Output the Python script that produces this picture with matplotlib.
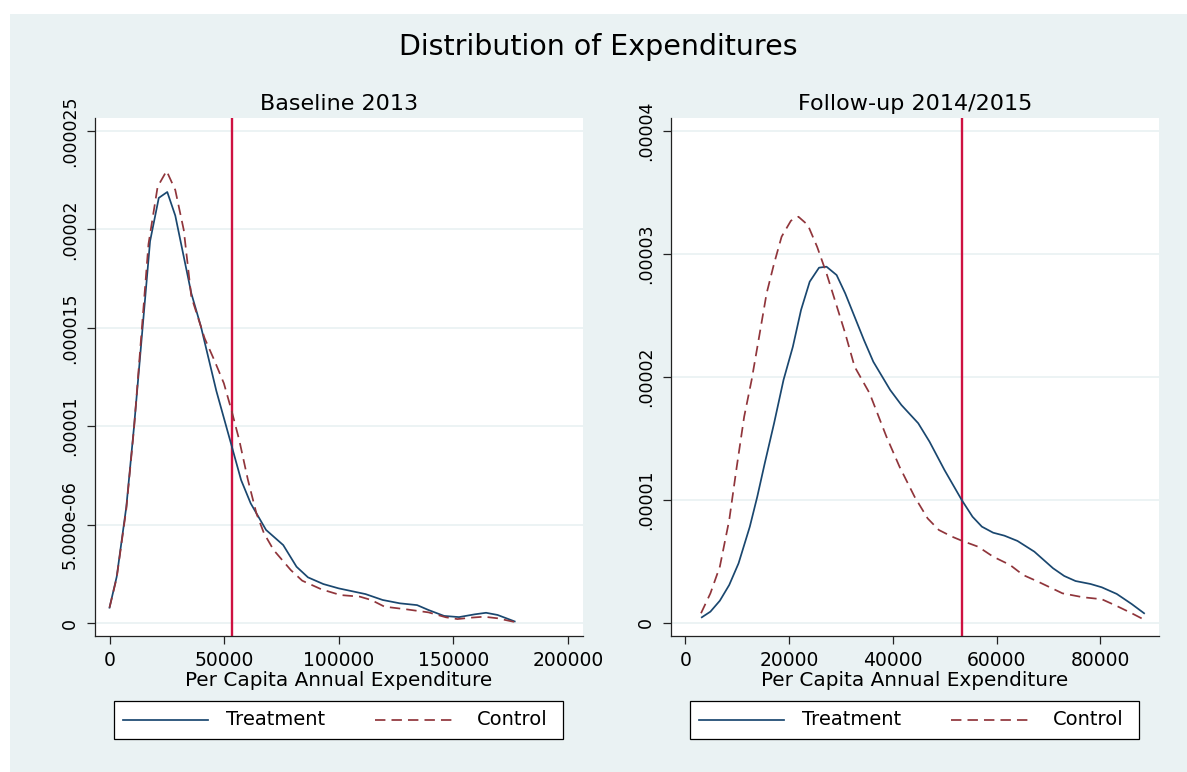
import matplotlib
matplotlib.use("Agg")
import matplotlib.pyplot as plt
from matplotlib.patches import Rectangle
from matplotlib.lines import Line2D

# ---------------- data (densities in units of 1e-6) ----------------
base_treat_x = [0, 3140, 7330, 10700, 17700, 21500, 25200, 28700, 35700, 39900,
                46600, 53200, 57400, 61600, 68300, 75800, 81600, 86600, 93300, 100000,
                111700, 119200, 126700, 134200, 139200, 146000, 152500, 159300, 164300, 169300,
                176800]
base_treat_y = [0.78, 2.35, 5.9, 9.97, 19.4, 21.6, 21.9, 20.7, 16.75, 15.06,
                11.8, 9.04, 7.27, 6.08, 4.73, 3.96, 2.86, 2.32, 1.98, 1.76,
                1.47, 1.17, 1.0, 0.91, 0.66, 0.36, 0.30, 0.44, 0.52, 0.41,
                0.08]
base_ctrl_x = [0, 3140, 7330, 10700, 17000, 21000, 24900, 28700, 32400, 35700,
               41500, 45700, 49900, 53200, 56600, 60400, 64100, 67400, 71600, 79100,
               84100, 92500, 100800, 109200, 114200, 120000, 129200, 139200, 146800, 151800,
               157600, 163400, 169300, 176800]
base_ctrl_y = [0.78, 2.3, 5.8, 9.9, 19.25, 22.17, 22.97, 22.0, 19.97, 16.58,
               14.47, 13.36, 12.18, 10.82, 9.3, 7.27, 5.57, 4.56, 3.71, 2.69,
               2.15, 1.71, 1.42, 1.34, 1.17, 0.83, 0.70, 0.54, 0.29, 0.20,
               0.27, 0.32, 0.24, 0.05]

fup_treat_x = [3160, 4820, 6640, 8450, 10250, 12420, 13860, 15300, 17100, 18920,
               20720, 22300, 23970, 25770, 27210, 29160, 30820, 32630, 34440, 36240,
               39500, 41660, 44900, 47080, 49960, 53290, 55370, 57180, 59350, 61510,
               64040, 67290, 70900, 73060, 75240, 78130, 80300, 83190, 86070, 88460]
fup_treat_y = [0.46, 0.92, 1.81, 3.09, 4.85, 7.83, 10.27, 12.98, 16.24, 19.76,
               22.46, 25.45, 27.75, 28.89, 28.97, 28.29, 26.8, 24.9, 23.0, 21.24,
               18.94, 17.72, 16.24, 14.74, 12.44, 10.0, 8.64, 7.83, 7.34, 7.1,
               6.67, 5.8, 4.45, 3.82, 3.41, 3.17, 2.9, 2.36, 1.54, 0.79]
fup_ctrl_x = [3010, 4820, 6640, 8450, 9900, 11330, 12770, 14220, 15660, 17110,
              18550, 20350, 21800, 23610, 25400, 27210, 29020, 30820, 32630,
              35530, 38770, 41300, 44190, 46720, 48880, 51410, 53290, 56460, 59350,
              62600, 65130, 68010, 72720, 76690, 80300, 83190, 86070, 88600]
fup_ctrl_y = [0.79, 2.41, 4.58, 8.37, 12.7, 16.77, 19.76, 23.28, 26.8, 29.24,
              31.41, 32.71, 33.03, 32.36, 30.59, 28.43, 25.99, 23.55, 20.84,
              18.67, 15.15, 12.7, 10.27, 8.5, 7.56, 7.02, 6.69, 6.2, 5.39,
              4.72, 3.9, 3.36, 2.41, 2.09, 1.93, 1.38, 0.79, 0.24]

poverty_line = 53400

base_xticks = [0, 50000, 100000, 150000, 200000]
base_yticks = [0, 5e-6, 1e-5, 1.5e-5, 2e-5, 2.5e-5]
base_yticklabels = ["0", "5.000e-06", ".00001", ".000015", ".00002", ".000025"]
fup_xticks = [0, 20000, 40000, 60000, 80000]
fup_yticks = [0, 1e-5, 2e-5, 3e-5, 4e-5]
fup_yticklabels = ["0", ".00001", ".00002", ".00003", ".00004"]

suptitle = "Distribution of Expenditures"
panel_titles = ["Baseline 2013", "Follow-up 2014/2015"]
xlabel = "Per Capita Annual Expenditure"
series_labels = ["Treatment", "Control"]

# ---------------- style ----------------
W, H = 1187, 772
BG = "#EAF2F3"
NAVY = "#1A476F"
MAROON = "#90353B"
RED = "#CE1141"
DASH = (6, 3.5)
LW = 1.25

fig = plt.figure(figsize=(W / 100, H / 100), dpi=100)
fig.patch.set_facecolor("white")
fig.add_artist(Rectangle((10 / W, 0), (W - 10) / W, (H - 14) / H,
                         transform=fig.transFigure, facecolor=BG,
                         edgecolor="none", zorder=0))

fig.text(598 / W, 1 - 47 / H, suptitle, ha="center", va="center", fontsize=20.5)


def make_panel(left_px, width_px, title, tx, ty, cx, cy, xticks, yticks, ylabels,
               xlim, ylim):
    ax = fig.add_axes([left_px / W, (H - 636) / H, width_px / W, 518 / H])
    ax.set_facecolor("white")
    ax.plot(tx, [v * 1e-6 for v in ty], color=NAVY, lw=LW, zorder=3)
    ax.plot(cx, [v * 1e-6 for v in cy], color=MAROON, lw=LW, dashes=DASH, zorder=3)
    ax.axvline(poverty_line, color=RED, lw=1.7, zorder=2.5)
    ax.set_xlim(*xlim)
    ax.set_ylim(*ylim)
    ax.set_xticks(xticks)
    ax.set_xticklabels([str(t) for t in xticks], fontsize=13.5)
    ax.set_yticks(yticks)
    ax.set_yticklabels(ylabels, fontsize=12.5, rotation=90, va="center")
    ax.tick_params(axis="both", direction="out", length=5.5, width=0.9, color="#222222")
    ax.tick_params(axis="y", pad=6)
    ax.tick_params(axis="x", pad=5)
    ax.yaxis.grid(True, color=BG, lw=1.3)
    ax.xaxis.grid(False)
    ax.set_axisbelow(True)
    for s in ["top", "right"]:
        ax.spines[s].set_visible(False)
    for s in ["left", "bottom"]:
        ax.spines[s].set_color("#222222")
        ax.spines[s].set_linewidth(0.9)
    ax.set_title(title, fontsize=16, pad=5.8)
    ax.set_xlabel(xlabel, fontsize=14.4, va="center")
    ax.xaxis.set_label_coords(0.5, (636 - 680) / 518)

    # legend box (Stata style, below the panel)
    dx = left_px - 95
    def fx(px):
        return (px + dx) / W
    def fy(py):
        return 1 - py / H
    fig.add_artist(Rectangle((fx(113.5), fy(738.7)), 449.5 / W, 38 / H,
                             transform=fig.transFigure, facecolor="white",
                             edgecolor="black", lw=0.9, zorder=2))
    yc = fy(719.7)
    fig.add_artist(Line2D([fx(123), fx(208)], [yc, yc], transform=fig.transFigure,
                          color=NAVY, lw=LW, zorder=3))
    fig.add_artist(Line2D([fx(375), fx(456)], [yc, yc], transform=fig.transFigure,
                          color=MAROON, lw=LW, dashes=DASH, zorder=3))
    fig.text(fx(226), yc, series_labels[0], ha="left", va="center", fontsize=14, zorder=4)
    fig.text(fx(477), yc, series_labels[1], ha="left", va="center", fontsize=14, zorder=4)
    return ax


make_panel(95, 488, panel_titles[0], base_treat_x, base_treat_y, base_ctrl_x, base_ctrl_y,
           base_xticks, base_yticks, base_yticklabels, (-6330, 206600), (-0.66e-6, 2.566e-5))
make_panel(671, 487.6, panel_titles[1], fup_treat_x, fup_treat_y, fup_ctrl_x, fup_ctrl_y,
           fup_xticks, fup_yticks, fup_yticklabels, (-2780, 91260), (-1.06e-6, 4.106e-5))

fig.savefig("out.png", dpi=100, facecolor=fig.get_facecolor())
